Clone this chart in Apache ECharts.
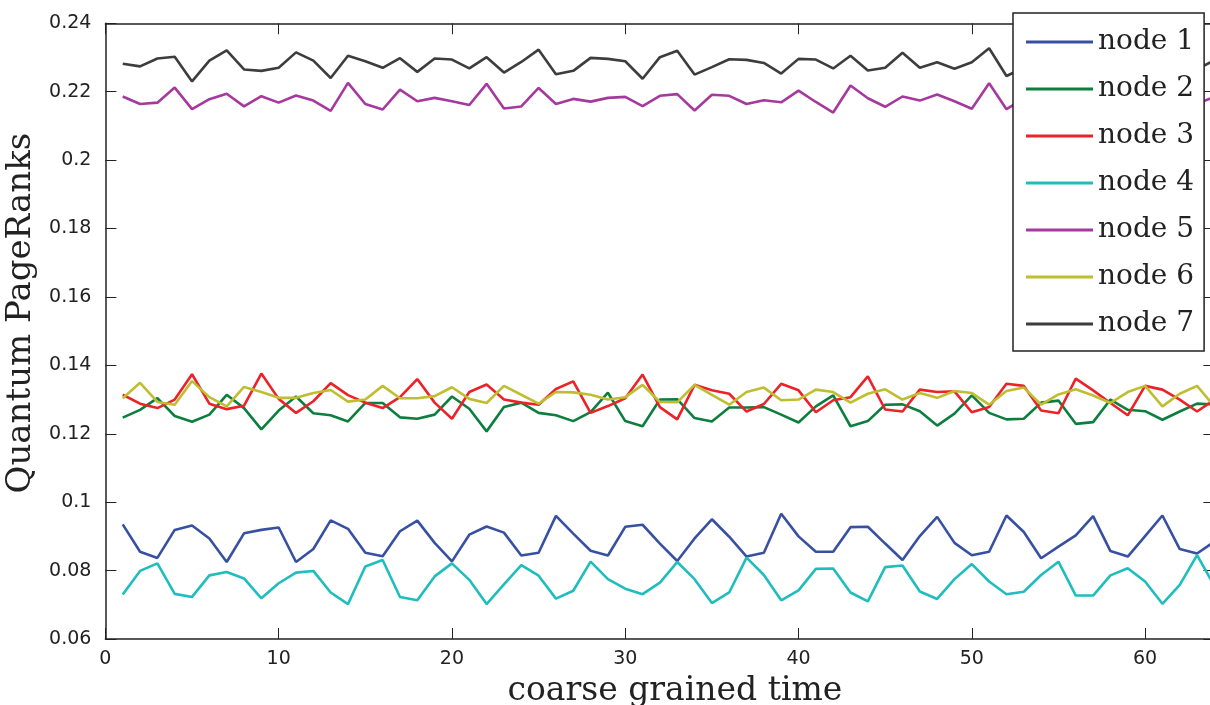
<!DOCTYPE html>
<html>
<head>
<meta charset="utf-8">
<script src="https://cdn.jsdelivr.net/npm/echarts@6/dist/echarts.min.js"></script>
<style>
html,body{margin:0;padding:0;background:#fff;}
#chart{width:1210px;height:705px;}
</style>
</head>
<body>
<div id="chart"></div>
<script>
const seriesNames = ['node 1','node 2','node 3','node 4','node 5','node 6','node 7'];
const xTicks = [0,10,20,30,40,50,60];
const yTicks = [0.06,0.08,0.1,0.12,0.14,0.16,0.18,0.2,0.22,0.24];

const node1 = [0.0935,0.0855,0.0837,0.0919,0.0932,0.0894,0.0825,0.0909,0.0919,0.0926,
  0.0825,0.0863,0.0947,0.0922,0.0852,0.0842,0.0915,0.0946,0.0881,0.0827,
  0.0905,0.0929,0.0911,0.0844,0.0852,0.0960,0.0908,0.0858,0.0844,0.0928,
  0.0934,0.0879,0.0828,0.0894,0.0950,0.0899,0.0841,0.0852,0.0966,0.0900,
  0.0855,0.0855,0.0927,0.0928,0.0879,0.0831,0.0901,0.0957,0.0881,0.0845,
  0.0855,0.0961,0.0913,0.0836,0.0870,0.0903,0.0959,0.0857,0.0841,0.0901,
  0.0961,0.0863,0.0850,0.0885];
const node2 = [0.1247,0.1270,0.1304,0.1252,0.1235,0.1256,0.1314,0.1275,0.1213,0.1268,
  0.1309,0.1260,0.1254,0.1236,0.1290,0.1290,0.1248,0.1244,0.1256,0.1309,
  0.1273,0.1207,0.1278,0.1291,0.1261,0.1254,0.1237,0.1263,0.1320,0.1237,
  0.1222,0.1300,0.1301,0.1246,0.1236,0.1277,0.1277,0.1278,0.1256,0.1233,
  0.1280,0.1312,0.1222,0.1237,0.1285,0.1286,0.1266,0.1224,0.1259,0.1312,
  0.1261,0.1242,0.1244,0.1291,0.1297,0.1229,0.1234,0.1300,0.1270,0.1266,
  0.1241,0.1265,0.1288,0.1286];
const node3 = [0.1314,0.1288,0.1275,0.1300,0.1374,0.1288,0.1272,0.1282,0.1376,0.1302,
  0.1261,0.1295,0.1348,0.1313,0.1291,0.1275,0.1307,0.1360,0.1291,0.1244,
  0.1322,0.1344,0.1300,0.1291,0.1285,0.1331,0.1353,0.1261,0.1281,0.1304,
  0.1373,0.1278,0.1242,0.1343,0.1327,0.1317,0.1265,0.1287,0.1346,0.1327,
  0.1263,0.1298,0.1307,0.1368,0.1271,0.1265,0.1329,0.1322,0.1324,0.1263,
  0.1278,0.1346,0.1340,0.1268,0.1260,0.1361,0.1327,0.1290,0.1254,0.1340,
  0.1329,0.1300,0.1265,0.1300];
const node4 = [0.0730,0.0799,0.0821,0.0732,0.0723,0.0786,0.0796,0.0777,0.0719,0.0763,
  0.0794,0.0799,0.0736,0.0702,0.0812,0.0831,0.0723,0.0713,0.0783,0.0821,
  0.0773,0.0702,0.0760,0.0816,0.0785,0.0718,0.0741,0.0826,0.0775,0.0747,
  0.0731,0.0765,0.0825,0.0775,0.0705,0.0736,0.0838,0.0787,0.0713,0.0742,
  0.0805,0.0806,0.0736,0.0710,0.0810,0.0815,0.0739,0.0717,0.0775,0.0819,
  0.0768,0.0731,0.0738,0.0787,0.0826,0.0727,0.0727,0.0786,0.0807,0.0768,
  0.0703,0.0758,0.0845,0.0755];
const node5 = [0.2186,0.2164,0.2168,0.2212,0.2149,0.2178,0.2194,0.2157,0.2187,0.2168,
  0.2189,0.2174,0.2144,0.2226,0.2164,0.2148,0.2206,0.2172,0.2182,0.2172,
  0.2161,0.2223,0.2151,0.2157,0.2211,0.2164,0.2179,0.2171,0.2182,0.2185,
  0.2158,0.2188,0.2193,0.2145,0.2191,0.2188,0.2164,0.2175,0.2169,0.2203,
  0.2170,0.2139,0.2218,0.2181,0.2156,0.2186,0.2174,0.2192,0.2172,0.2150,
  0.2225,0.2149,0.2180,0.2160,0.2205,0.2170,0.2188,0.2150,0.2196,0.2175,
  0.2160,0.2215,0.2165,0.2185];
const node6 = [0.1304,0.1349,0.1293,0.1285,0.1354,0.1307,0.1280,0.1337,0.1322,0.1305,
  0.1305,0.1319,0.1328,0.1294,0.1300,0.1340,0.1304,0.1304,0.1310,0.1336,
  0.1302,0.1290,0.1340,0.1314,0.1288,0.1322,0.1321,0.1314,0.1300,0.1307,
  0.1343,0.1293,0.1292,0.1343,0.1314,0.1285,0.1322,0.1335,0.1298,0.1300,
  0.1329,0.1322,0.1291,0.1317,0.1330,0.1300,0.1319,0.1305,0.1325,0.1319,
  0.1285,0.1325,0.1335,0.1285,0.1315,0.1330,0.1312,0.1290,0.1322,0.1340,
  0.1280,0.1317,0.1340,0.1280];
const node7 = [0.2282,0.2274,0.2297,0.2302,0.2230,0.2291,0.2321,0.2265,0.2261,0.2270,
  0.2315,0.2291,0.2240,0.2305,0.2289,0.2270,0.2298,0.2258,0.2297,0.2294,
  0.2268,0.2301,0.2256,0.2287,0.2323,0.2251,0.2261,0.2299,0.2296,0.2289,
  0.2238,0.2301,0.2320,0.2250,0.2272,0.2295,0.2293,0.2284,0.2253,0.2296,
  0.2294,0.2268,0.2305,0.2262,0.2270,0.2314,0.2270,0.2286,0.2267,0.2286,
  0.2327,0.2246,0.2270,0.2300,0.2262,0.2296,0.2272,0.2305,0.2258,0.2292,
  0.2275,0.2310,0.2265,0.2292];

const colors = ['#3750a1','#0c7f3f','#ec2229','#1fbdbd','#a5399d','#bfbe31','#3d3d3d'];
const allData = [node1,node2,node3,node4,node5,node6,node7];
const time = node1.map((_, i) => i + 1);

const chart = echarts.init(document.getElementById('chart'), null, {renderer:'canvas'});
const axisColor = '#222';
const tickFont = {fontFamily:'DejaVu Sans', fontSize:19, color:'#222'};
const serifFont = 'DejaVu Serif';
const lineIcon = 'path://M0,0L67,0L67,3.2L0,3.2Z';

const option = {
  backgroundColor:'#fff',
  animation:false,
  color: colors,
  grid:{left:105.4, top:23.3, width:1109, height:615.7, containLabel:false, outerBoundsMode:'none'},
  legend:{
    orient:'vertical', left:1013, top:13,
    backgroundColor:'#fff', borderColor:'#222', borderWidth:1.5,
    padding:[14,10,12,13],
    itemWidth:67, itemHeight:30, itemGap:17,
    icon: lineIcon,
    textStyle:{fontFamily:serifFont, fontSize:28, color:'#222', lineHeight:30},
    data: seriesNames
  },
  xAxis:[{
    type:'value', min:0, max:64, interval:10, position:'bottom',
    name:'coarse grained time', nameLocation:'middle', nameGap:36,
    nameTextStyle:{fontFamily:serifFont, fontSize:33, color:'#222', padding:[0,0,0,30]},
    axisLine:{show:true, onZero:false, lineStyle:{color:axisColor, width:1.5}},
    axisTick:{show:true, inside:true, length:11, lineStyle:{color:axisColor, width:1}},
    axisLabel:{show:true, margin:11, showMaxLabel:false, ...tickFont,
      formatter:v => xTicks.includes(v) ? String(v) : ''},
    splitLine:{show:false}
  },{
    type:'value', min:0, max:64, interval:10, position:'top',
    axisLine:{show:true, onZero:false, lineStyle:{color:axisColor, width:1.5}},
    axisTick:{show:true, inside:true, length:11, lineStyle:{color:axisColor, width:1}},
    axisLabel:{show:false}, splitLine:{show:false}
  }],
  yAxis:[{
    type:'value', min:0.06, max:0.24, interval:0.02, position:'left',
    name:'Quantum PageRanks', nameLocation:'middle', nameGap:60,
    nameTextStyle:{fontFamily:serifFont, fontSize:34, color:'#222', padding:[0,0,0,36]},
    axisLine:{show:true, onZero:false, lineStyle:{color:axisColor, width:1.5}},
    axisTick:{show:true, inside:true, length:11, lineStyle:{color:axisColor, width:1}},
    axisLabel:{show:true, margin:14, ...tickFont,
      formatter:v => { const r = Math.round(v*100)/100; return yTicks.some(t => Math.abs(t-r)<1e-9) ? String(r) : ''; }},
    splitLine:{show:false}
  },{
    type:'value', min:0.06, max:0.24, interval:0.02, position:'right',
    axisLine:{show:true, onZero:false, lineStyle:{color:axisColor, width:1.5}},
    axisTick:{show:true, inside:true, length:11, lineStyle:{color:axisColor, width:1}},
    axisLabel:{show:false}, splitLine:{show:false}
  }],
  series: seriesNames.map((name, k) => ({
    name, type:'line', xAxisIndex:0, yAxisIndex:0,
    symbol:'none', showSymbol:false, smooth:false,
    lineStyle:{width:2.6, color:colors[k]},
    itemStyle:{color:colors[k]},
    data: time.map((t, i) => [t, allData[k][i]])
  }))
};
chart.setOption(option);
</script>
</body>
</html>
